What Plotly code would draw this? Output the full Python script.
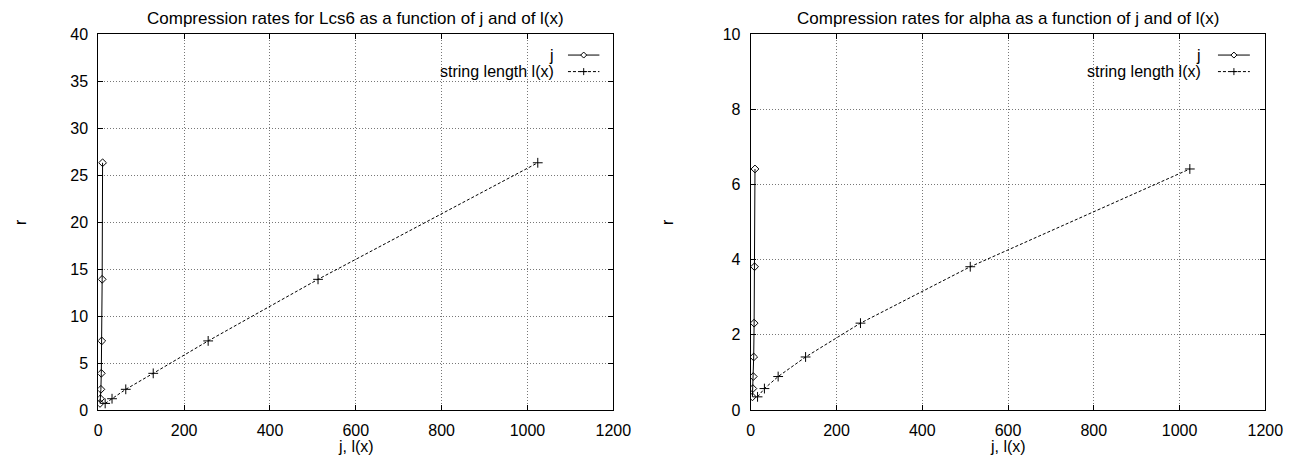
import plotly.graph_objects as go

# ---- data ----
j_vals = [4, 5, 6, 7, 8, 9, 10]
lx_vals = [16, 32, 64, 128, 256, 512, 1024]
r_lcs6 = [0.7, 1.2, 2.2, 3.9, 7.35, 13.9, 26.3]
r_alpha = [0.35, 0.57, 0.89, 1.41, 2.31, 3.81, 6.41]
x_ticks = [0, 200, 400, 600, 800, 1000, 1200]
lcs6_y_ticks = [0, 5, 10, 15, 20, 25, 30, 35, 40]
alpha_y_ticks = [0, 2, 4, 6, 8, 10]
titles = ["Compression rates for Lcs6 as a function of j and of l(x)",
          "Compression rates for alpha as a function of j and of l(x)"]
series_names = ["j", "string length l(x)"]
x_title = "j, l(x)"
y_title = "r"

FONT = "Liberation Sans, Arial, sans-serif"
OFF = 8  # page body margin
W, H = 1295 - OFF, 458 - OFF


def px(x):
    return (x - OFF) / W


def py(y):
    return 1 - (y - OFF) / H


fig = go.Figure()

panels = [("x", "y", r_lcs6), ("x2", "y2", r_alpha)]
for xa, ya, rv in panels:
    fig.add_trace(go.Scatter(
        x=j_vals, y=rv, xaxis=xa, yaxis=ya, mode="lines+markers",
        line=dict(color="black", width=1),
        marker=dict(symbol="diamond-open", size=6, color="black",
                    line=dict(width=1, color="black")),
        showlegend=False, name=series_names[0]))
    fig.add_trace(go.Scatter(
        x=lx_vals, y=rv, xaxis=xa, yaxis=ya, mode="lines+markers",
        line=dict(color="black", width=1, dash="3px,2px"),
        marker=dict(symbol="cross-thin-open", size=7, color="black",
                    line=dict(width=1, color="black")),
        showlegend=False, name=series_names[1]))

axis_common = dict(
    showline=True, linecolor="black", linewidth=1, mirror="ticks",
    ticks="inside", ticklen=5, tickcolor="black", tickwidth=1,
    showgrid=True, gridcolor="#777777", griddash="1px,2px", gridwidth=1,
    zeroline=False, automargin=False, ticklabelstandoff=6,
    tickfont=dict(family=FONT, size=16, color="black"),
)

ydom = [py(410), py(34)]
xdom1 = [px(98.3), px(613.3)]
xdom2 = [px(750.7), px(1265.3)]
fig.update_layout(
    width=W, height=H,
    margin=dict(l=0, r=0, t=0, b=0, autoexpand=False),
    paper_bgcolor="white", plot_bgcolor="white",
    font=dict(family=FONT, color="black"),
    xaxis=dict(domain=xdom1, range=[0, 1200], tickvals=x_ticks,
               anchor="y", **axis_common),
    yaxis=dict(domain=ydom, range=[0, 40], tickvals=lcs6_y_ticks,
               anchor="x", **axis_common),
    xaxis2=dict(domain=xdom2, range=[0, 1200], tickvals=x_ticks,
                anchor="y2", **axis_common),
    yaxis2=dict(domain=ydom, range=[0, 10], tickvals=alpha_y_ticks,
                anchor="x2", **axis_common),
)

annotations = []
shapes = []
ytitle_x = [px(20), px(667)]
for k, (xa, ya, _) in enumerate(panels):
    xd = xa + " domain"
    yd = ya + " domain"
    annotations.append(dict(text=titles[k], xref=xd, yref="paper", x=0.5,
                            y=py(18), xanchor="center", yanchor="middle",
                            showarrow=False, font=dict(size=17)))
    annotations.append(dict(text=x_title, xref=xd, yref="paper", x=0.5,
                            y=py(446), xanchor="center", yanchor="middle",
                            showarrow=False, font=dict(size=16)))
    annotations.append(dict(text=y_title, xref="paper", yref=yd, x=ytitle_x[k],
                            y=0.5, xanchor="center", yanchor="middle",
                            textangle=-90, showarrow=False, font=dict(size=16)))
    tx = 0.889 if k == 0 else 0.879
    sx0 = 0.912 if k == 0 else 0.908
    sx1 = 0.973 if k == 0 else 0.970
    for i, (yy, nm) in enumerate(zip([0.944, 0.900], series_names)):
        annotations.append(dict(text=nm, xref=xd, yref=yd, x=tx, y=yy,
                                xanchor="right", yanchor="middle",
                                showarrow=False, font=dict(size=16)))
        shapes.append(dict(type="line", xref=xd, yref=yd, x0=sx0, x1=sx1,
                           y0=yy, y1=yy,
                           line=dict(color="black", width=1,
                                     dash="solid" if i == 0 else "3px,2px")))
        cx = (sx0 + sx1) / 2
        if i == 0:
            path = "M0,3 L3,0 L0,-3 L-3,0 Z"
        else:
            path = "M-3.5,0 L3.5,0 M0,-3.5 L0,3.5"
        shapes.append(dict(type="path", xref=xd, yref=yd,
                           xsizemode="pixel", ysizemode="pixel",
                           xanchor=cx, yanchor=yy, path=path,
                           fillcolor="white",
                           line=dict(color="black", width=1)))

fig.update_layout(annotations=annotations, shapes=shapes)
fig.write_html("out.html")
